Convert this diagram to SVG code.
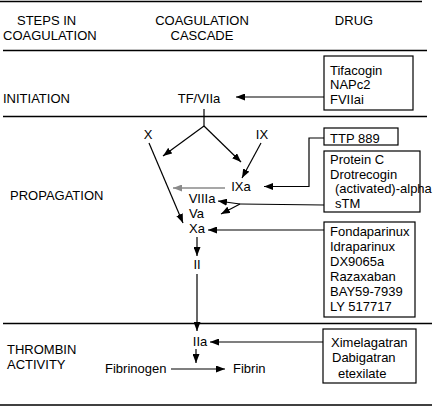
<svg xmlns="http://www.w3.org/2000/svg" width="440" height="406" viewBox="0 0 440 406">
<style>
text{font-family:"Liberation Sans",Arial,sans-serif;font-size:13px;fill:#000}
.m{text-anchor:middle}
.rule{stroke:#000;stroke-width:1.3;fill:none}
.c{stroke:#000;stroke-width:1.2;fill:none}
.g{stroke:#8a8a8a;stroke-width:1.6;fill:none}
.box{fill:#fff;stroke:#000;stroke-width:1.2}
</style>
<defs>
<marker id="ah" markerUnits="userSpaceOnUse" markerWidth="9" markerHeight="7" refX="9" refY="3.5" orient="auto"><path d="M0,0 L9,3.5 L0,7 z" fill="#000"/></marker>
<marker id="ahg" markerUnits="userSpaceOnUse" markerWidth="9" markerHeight="7" refX="9" refY="3.5" orient="auto"><path d="M0,0 L9,3.5 L0,7 z" fill="#8a8a8a"/></marker>
</defs>
<rect width="440" height="406" fill="#fff"/>
<g id="rules">
<line class="rule" x1="0" y1="1.5" x2="422" y2="1.5"/>
<line class="rule" x1="3" y1="50.5" x2="427" y2="50.5"/>
<line class="rule" x1="3" y1="116.5" x2="427" y2="116.5"/>
<line class="rule" x1="3" y1="323.5" x2="432" y2="323.5"/>
<line class="rule" x1="0" y1="405" x2="432" y2="405"/>
</g>
<g id="headers">
<text x="17" y="25">STEPS IN</text>
<text x="3" y="40">COAGULATION</text>
<text class="m" x="202" y="25">COAGULATION</text>
<text class="m" x="202" y="40">CASCADE</text>
<text class="m" x="354" y="25">DRUG</text>
</g>
<g id="steps">
<text x="3" y="103">INITIATION</text>
<text x="10" y="200">PROPAGATION</text>
<text x="7" y="354">THROMBIN</text>
<text x="7" y="369">ACTIVITY</text>
</g>
<g id="connectors">
<path class="c" d="M204,109 V126"/>
<path class="c" d="M204,126 L163,156" marker-end="url(#ah)"/>
<path class="c" d="M204,126 L241,162" marker-end="url(#ah)"/>
<path class="c" d="M149,143 L183,223" marker-end="url(#ah)"/>
<path class="c" d="M261,143 L242,178" marker-end="url(#ah)"/>
<path class="g" d="M225,188 H173" marker-end="url(#ahg)"/>
<path class="c" d="M324,97 H236" marker-end="url(#ah)"/>
<path class="c" d="M324,138 H309 V186.5 H264" marker-end="url(#ah)"/>
<path class="c" d="M324,205 L240,204"/>
<path class="c" d="M240,204 L218,201" marker-end="url(#ah)"/>
<path class="c" d="M240,204 L221,214" marker-end="url(#ah)"/>
<path class="c" d="M324,230 H208" marker-end="url(#ah)"/>
<path class="c" d="M197,237 V256" marker-end="url(#ah)"/>
<path class="c" d="M197,274 V331" marker-end="url(#ah)"/>
<path class="c" d="M323,342 H210" marker-end="url(#ah)"/>
<path class="c" d="M196,349 V363" marker-end="url(#ah)"/>
<path class="c" d="M171,369 H225" marker-end="url(#ah)"/>
</g>
<g id="n-tfviia"><text class="m" x="199" y="103">TF/VIIa</text></g>
<g id="n-x"><text class="m" x="148" y="139">X</text></g>
<g id="n-ix"><text class="m" x="262" y="139">IX</text></g>
<g id="n-ixa"><text class="m" x="241" y="191">IXa</text></g>
<g id="n-viiia"><text class="m" x="202" y="203">VIIIa</text></g>
<g id="n-va"><text x="189" y="218">Va</text></g>
<g id="n-xa"><text x="189" y="233">Xa</text></g>
<g id="n-ii"><text class="m" x="197" y="269">II</text></g>
<g id="n-iia"><text class="m" x="200" y="346">IIa</text></g>
<g id="n-fibrinogen"><text x="105" y="373">Fibrinogen</text></g>
<g id="n-fibrin"><text x="233" y="373">Fibrin</text></g>
<g id="d-tifacogin">
<rect class="box" x="324" y="56" width="89" height="54"/>
<text x="330" y="74.5">Tifacogin</text>
<text x="330" y="89">NAPc2</text>
<text x="330" y="103.5">FVIIai</text>
</g>
<g id="d-ttp">
<rect class="box" x="324" y="128" width="74" height="17"/>
<text x="330" y="142.5">TTP 889</text>
</g>
<g id="d-proteinc">
<rect class="box" x="324" y="151" width="96" height="61"/>
<text x="330" y="164">Protein C</text>
<text x="330" y="178.5">Drotrecogin</text>
<text x="335" y="193">(activated)-alpha</text>
<text x="335" y="207.5">sTM</text>
</g>
<g id="d-fonda">
<rect class="box" x="324" y="222" width="91" height="95"/>
<text x="330" y="236">Fondaparinux</text>
<text x="330" y="251">Idraparinux</text>
<text x="330" y="266">DX9065a</text>
<text x="330" y="281">Razaxaban</text>
<text x="330" y="296">BAY59-7939</text>
<text x="330" y="311">LY 517717</text>
</g>
<g id="d-xime">
<rect class="box" x="323" y="329" width="93" height="54"/>
<text x="331" y="347">Ximelagatran</text>
<text x="332" y="362">Dabigatran</text>
<text x="338" y="378">etexilate</text>
</g>
</svg>
